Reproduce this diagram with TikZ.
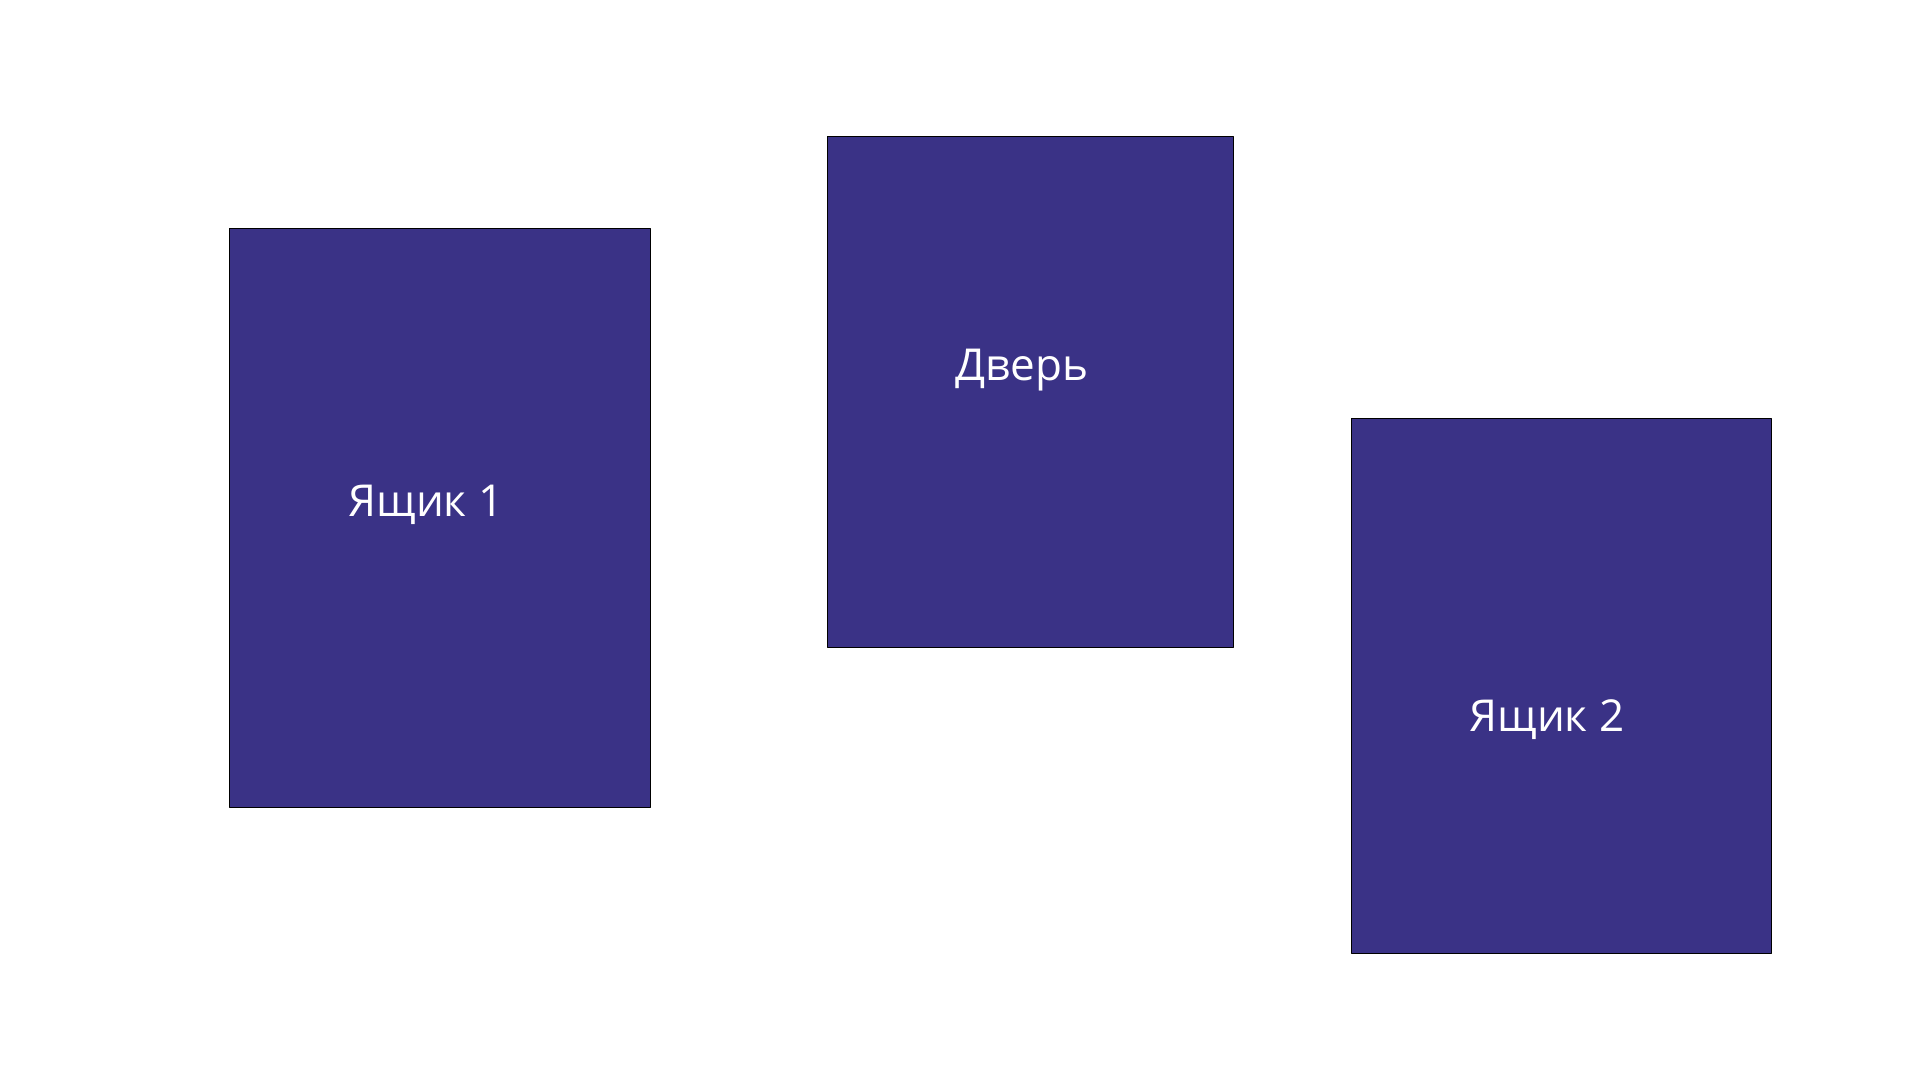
\documentclass[tikz,border=0pt]{standalone}
\usepackage{fontspec}
\setmainfont{Open Sans}
\definecolor{boxblue}{RGB}{58,50,134}

\begin{document}
\begin{tikzpicture}[x=1pt,y=-1pt,line cap=round,line join=round,
  panel/.style={draw=black,fill=boxblue,line width=1pt},
  label/.style={anchor=base,text=white,inner sep=0pt,font=\fontsize{44}{52}\selectfont}]
\useasboundingbox (0,0) rectangle (1920,1080);
\fill[white] (0,0) rectangle (1920,1080);
\draw[panel] (229,228) rectangle (650,807);
\draw[panel] (827,136) rectangle (1233,647);
\draw[panel] (1351,418) rectangle (1771,953);
\node[label] (box1) at (426,516) {Ящик 1};
\node[label] (door) at (1022,380) {Дверь};
\node[label] (box2) at (1547,731) {Ящик 2};
\end{tikzpicture}
\end{document}
